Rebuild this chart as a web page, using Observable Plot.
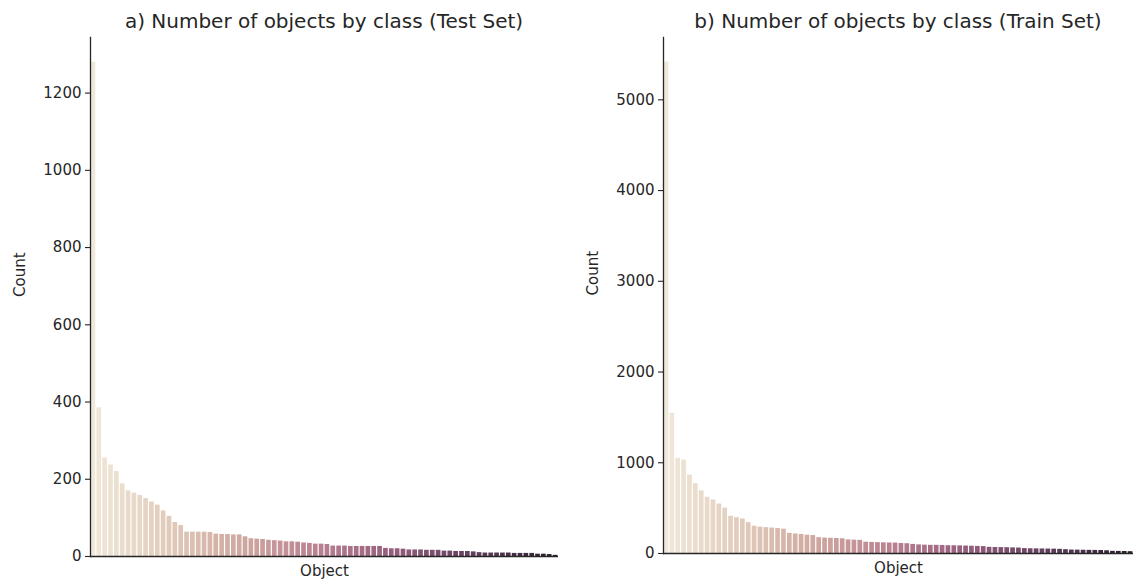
<!DOCTYPE html>
<html><head><meta charset="utf-8">
<script src="https://cdn.jsdelivr.net/npm/d3@7"></script>
<script src="https://cdn.jsdelivr.net/npm/@observablehq/plot@0.6"></script>
<style>
body{margin:0;background:#fff;font-family:"DejaVu Sans",sans-serif;}
#wrap{position:relative;width:1136px;height:585px;overflow:hidden;background:#fff}
.panel{position:absolute;top:0;width:568px;height:585px}
.title{position:absolute;top:9px;z-index:2;font-size:20px;line-height:24px;color:#262626;text-align:center;white-space:nowrap}
.panel svg{position:absolute;top:28px;left:0;z-index:1}
</style>
</head><body>
<div id="wrap">
  <div class="panel" id="pa"><div class="title" id="ta"></div></div>
  <div class="panel" id="pb" style="left:568px"><div class="title" id="tb"></div></div>
</div>
<script>
// ---- data ----
const titleTest = "a) Number of objects by class (Test Set)";
const titleTrain = "b) Number of objects by class (Train Set)";
const xLabel = "Object";
const yLabel = "Count";
const testCounts = [1280, 385, 255, 237, 220, 188, 170, 164, 158, 150, 141, 133, 118, 104, 88, 80,
  63, 63, 63, 63, 62, 58, 57, 57, 56, 56, 51, 46, 45, 44, 42, 41, 40, 38, 38, 37, 35, 34,
  32, 32, 31, 27, 27, 27, 26, 26, 26, 26, 26, 26, 21, 20, 20, 19, 17, 17, 17, 16, 16, 16,
  14, 14, 13, 13, 13, 12, 10, 9, 9, 9, 9, 9, 8, 8, 8, 8, 6, 6, 5, 3];
const trainCounts = [5416, 1545, 1050, 1030, 865, 770, 690, 620, 590, 545, 500, 410, 395, 380, 340, 300,
  290, 285, 280, 275, 268, 222, 215, 210, 202, 198, 175, 170, 168, 165, 162, 150, 147, 145,
  125, 122, 120, 118, 116, 115, 110, 108, 100, 95, 92, 90, 90, 88, 86, 85, 84, 82, 80, 78, 76,
  68, 66, 65, 64, 62, 60, 54, 52, 51, 50, 49, 48, 46, 42, 38, 37, 36, 35, 34, 33, 30, 24, 23, 22, 20];
const testTicks = [0, 200, 400, 600, 800, 1000, 1200];
const trainTicks = [0, 1000, 2000, 3000, 4000, 5000];
const paletteStops = ["#f0e8da", "#e3d0bd", "#d3b0a3", "#c38f97", "#a86d87", "#835272", "#553855", "#2a1d2b"];

const pal = d3.interpolateRgbBasis(paletteStops);

function panel(counts, ticks, opts) {
  const n = counts.length;
  const rows = counts.map((v, i) => ({i, v, c: pal(i / (n - 1))}));
  const ymax = d3.max(counts) * 1.05;
  return Plot.plot({
    width: 568, height: 557,
    marginLeft: opts.ml, marginRight: opts.mr, marginTop: 9, marginBottom: opts.mb,
    style: {fontFamily: "DejaVu Sans, sans-serif", fontSize: "15px", color: "#262626", background: "transparent"},
    x: {type: "band", domain: d3.range(n), paddingInner: 0.2, paddingOuter: 0.1, axis: null},
    y: {domain: [0, ymax], ticks: ticks, tickSize: 5, tickPadding: 4, label: null},
    marks: [
      Plot.barY(rows, {x: "i", y: "v", fill: "c"}),
      Plot.axisY({ticks: ticks, tickSize: 5, tickPadding: 4, tickFormat: d => String(d), label: null, stroke: "#262626", strokeWidth: 1.1}),
      Plot.frame({anchor: "left", stroke: "#262626", strokeWidth: 1.3}),
      Plot.ruleY([0], {stroke: "#262626", strokeWidth: 1.3}),
      Plot.text([yLabel], {frameAnchor: "left", rotate: -90, dx: -70, fontSize: 15, fill: "#262626"}),
      Plot.text([xLabel], {frameAnchor: "bottom", dy: 19, fontSize: 15, fill: "#262626"})
    ]
  });
}

const a = panel(testCounts, testTicks, {ml: 90, mr: 10, mb: 29});
const b = panel(trainCounts, trainTicks, {ml: 95, mr: 3, mb: 32});
document.getElementById("pa").appendChild(a);
document.getElementById("pb").appendChild(b);
const ta = document.getElementById("ta");
ta.textContent = titleTest; ta.style.left = "90px"; ta.style.width = (568 - 90 - 10) + "px";
const tb = document.getElementById("tb");
tb.textContent = titleTrain; tb.style.left = "95px"; tb.style.width = (568 - 95 - 3) + "px";
</script>
</body></html>
